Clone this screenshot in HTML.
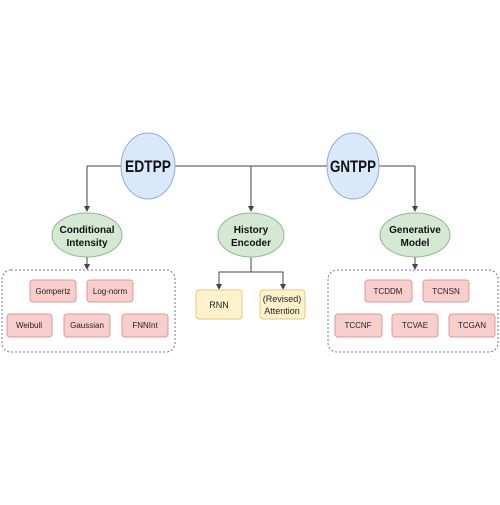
<!DOCTYPE html><html><head><style>body{margin:0;background:#fff}</style></head><body>
<svg width="500" height="500" viewBox="0 0 500 500" xmlns="http://www.w3.org/2000/svg" font-family="Liberation Sans, sans-serif">
<defs><marker id="a" markerWidth="6" markerHeight="6" refX="5" refY="3" orient="auto"><path d="M0,0L6,3L0,6z" fill="#444"/></marker></defs>
<g stroke="#444" stroke-width="1" fill="none">
<path d="M87,166H415"/>
<path d="M87,166V211" marker-end="url(#a)"/>
<path d="M251,166V211" marker-end="url(#a)"/>
<path d="M415,166V211" marker-end="url(#a)"/>
<path d="M87,257V269" marker-end="url(#a)"/>
<path d="M415,257V269" marker-end="url(#a)"/>
<path d="M251,257V272H219V289" marker-end="url(#a)"/>
<path d="M251,272H283V289" marker-end="url(#a)"/>
</g>
<rect x="2" y="270" width="173" height="82" rx="9" fill="none" stroke="#777" stroke-dasharray="2,2"/>
<rect x="328" y="270" width="170" height="82" rx="9" fill="none" stroke="#777" stroke-dasharray="2,2"/>
<ellipse cx="148" cy="166" rx="27" ry="33" fill="#dae8fc" stroke="#8eaed6"/>
<ellipse cx="353" cy="166" rx="26" ry="33" fill="#dae8fc" stroke="#8eaed6"/>
<g fill="#d5e8d4" stroke="#8fb98a"><ellipse cx="87" cy="235" rx="35" ry="22"/><ellipse cx="251" cy="235" rx="33" ry="22"/><ellipse cx="415" cy="235" rx="35" ry="22"/></g>
<g font-weight="bold" text-anchor="middle" fill="#111">
<text x="148" y="172" font-size="17" textLength="46" lengthAdjust="spacingAndGlyphs">EDTPP</text><text x="353" y="172" font-size="17" textLength="46" lengthAdjust="spacingAndGlyphs">GNTPP</text>
<text x="87" y="233" font-size="10">Conditional</text><text x="87" y="246" font-size="10">Intensity</text>
<text x="251" y="233" font-size="10">History</text><text x="251" y="246" font-size="10">Encoder</text>
<text x="415" y="233" font-size="10">Generative</text><text x="415" y="246" font-size="10">Model</text>
</g>
<g fill="#f8cecc" stroke="#d99a98">
<rect x="30" y="280" width="46" height="22" rx="3"/><rect x="87" y="280" width="46" height="22" rx="3"/>
<rect x="7" y="314" width="45" height="23" rx="3"/><rect x="64" y="314" width="46" height="23" rx="3"/><rect x="122" y="314" width="46" height="23" rx="3"/>
<rect x="365" y="280" width="47" height="22" rx="3"/><rect x="423" y="280" width="46" height="22" rx="3"/>
<rect x="335" y="314" width="47" height="23" rx="3"/><rect x="392" y="314" width="46" height="23" rx="3"/><rect x="449" y="314" width="46" height="23" rx="3"/>
</g>
<g fill="#fff2cc" stroke="#e0c97a"><rect x="196" y="290" width="46" height="29" rx="3"/><rect x="260" y="290" width="45" height="29" rx="3"/></g>
<g font-size="8" text-anchor="middle" fill="#222">
<text x="53" y="294">Gompertz</text><text x="110" y="294">Log-norm</text>
<text x="29" y="328">Weibull</text><text x="87" y="328">Gaussian</text><text x="145" y="328">FNNInt</text>
<text x="388" y="294">TCDDM</text><text x="446" y="294">TCNSN</text>
<text x="358" y="328">TCCNF</text><text x="415" y="328">TCVAE</text><text x="472" y="328">TCGAN</text>
<text x="219" y="308" font-size="9">RNN</text>
<text x="282" y="302" font-size="9">(Revised)</text><text x="282" y="314" font-size="9">Attention</text>
</g>
</svg></body></html>
